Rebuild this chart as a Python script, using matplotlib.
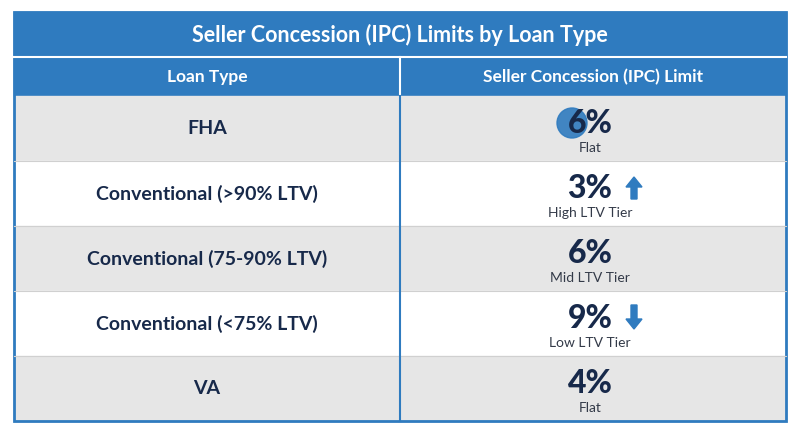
import matplotlib
matplotlib.use("Agg")
import matplotlib.pyplot as plt
from matplotlib.patches import Rectangle, Circle, FancyArrow

title = "Seller Concession (IPC) Limits by Loan Type"
headers = ["Loan Type", "Seller Concession (IPC) Limit"]
loan_types = ["FHA", "Conventional (>90% LTV)", "Conventional (75-90% LTV)", "Conventional (<75% LTV)", "VA"]
limits = [6, 3, 6, 9, 4]
tiers = ["Flat", "High LTV Tier", "Mid LTV Tier", "Low LTV Tier", "Flat"]
trend = [None, "up", None, "down", None]

BLUE = "#2f7bbf"
NAVY = "#17294a"
GRAY = "#e6e6e6"
FONT = "Lato"

fig = plt.figure(figsize=(8, 4.36), dpi=100)
ax = fig.add_axes([0, 0, 1, 1])
ax.set_xlim(0, 800); ax.set_ylim(436, 0); ax.axis("off")

L, R, MID = 14, 786, 400
ax.add_patch(Rectangle((L, 12), R - L, 84, color=BLUE))
ax.plot([L, R], [57, 57], color="white", lw=1.5)
ax.plot([MID, MID], [57, 96], color="white", lw=1.5)
ax.text(400, 35, title, ha="center", va="center", color="white", fontsize=15.5, fontweight="bold", family=FONT)
ax.text(207, 77, headers[0], ha="center", va="center", color="white", fontsize=12.5, fontweight="bold", family=FONT)
ax.text(593, 77, headers[1], ha="center", va="center", color="white", fontsize=12.5, fontweight="bold", family=FONT)

rh = 65
for i, (lt, v, t, tr) in enumerate(zip(loan_types, limits, tiers, trend)):
    y0 = 96 + i * rh
    ax.add_patch(Rectangle((L, y0), R - L, rh, color=GRAY if i % 2 == 0 else "white"))
    ax.text(207, y0 + rh / 2, lt, ha="center", va="center", color=NAVY, fontsize=14, fontweight="bold", family=FONT)
    if i == 0:
        ax.add_patch(Circle((572, y0 + 27), 15, color=BLUE, alpha=0.9, zorder=2))
    ax.text(590, y0 + 27, f"{v}%", ha="center", va="center", color=NAVY, fontsize=23, fontweight="black", family=FONT, zorder=3)
    ax.text(590, y0 + 52, t, ha="center", va="center", color="#333a48", fontsize=10, family=FONT)
    if tr == "up":
        ax.add_patch(FancyArrow(634, y0 + 38, 0, -22, width=6, head_width=16, head_length=10, length_includes_head=True, color=BLUE, zorder=3))
    elif tr == "down":
        ax.add_patch(FancyArrow(634, y0 + 14, 0, 24, width=6, head_width=16, head_length=10, length_includes_head=True, color=BLUE, zorder=3))
    if i > 0:
        ax.plot([L, R], [y0, y0], color="#d0d0d0", lw=0.8)

ax.plot([MID, MID], [96, 421], color=BLUE, lw=1.5)
ax.add_patch(Rectangle((L, 12), R - L, 409, fill=False, ec=BLUE, lw=2))

fig.savefig("out.png", dpi=100)
